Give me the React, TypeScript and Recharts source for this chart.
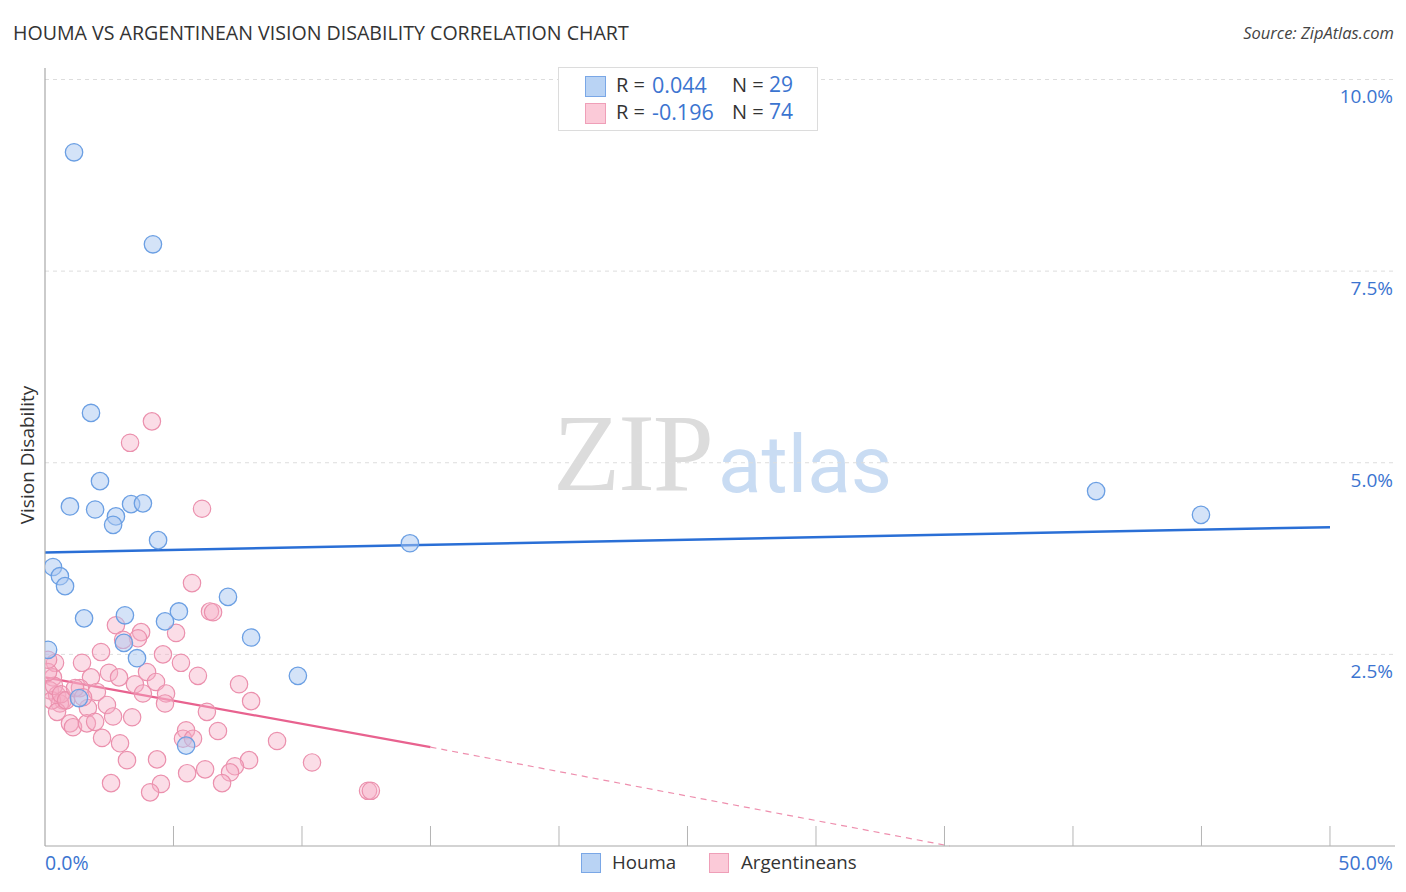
import React from 'react';
import { ScatterChart, Scatter, XAxis, YAxis, ReferenceLine } from 'recharts';

// Houma (blue) points: [x %, y %]
const houmaX = [1.13, 4.2, 1.79, 2.14, 0.97, 1.95, 2.76, 2.65, 3.35, 3.81, 4.4, 14.2, 0.31, 0.58, 0.78, 1.52, 3.11, 5.21, 4.67, 7.12, 3.07, 8.02, 3.58, 0.12, 9.84, 1.32, 5.49, 40.9, 44.98];
const houmaY = [9.05, 7.85, 5.65, 4.76, 4.43, 4.39, 4.3, 4.19, 4.46, 4.47, 3.99, 3.95, 3.64, 3.52, 3.39, 2.97, 3.01, 3.06, 2.93, 3.25, 2.65, 2.72, 2.45, 2.56, 2.22, 1.93, 1.31, 4.63, 4.32];

// Argentineans (pink) points
const argX = [4.16, 3.31, 6.11, 5.72, 6.42, 6.54, 2.76, 3.74, 3.62, 5.1, 2.18, 4.59, 1.44, 5.29, 0.39, 2.49, 2.88, 1.79, 3.97, 5.95, 3.5, 4.32, 7.55, 0.31, 1.36, 2.02, 3.81, 4.71, 8.02, 4.67, 0.19, 0.47, 0.7, 0.58, 0.27, 2.41, 1.67, 6.3, 2.65, 3.39, 0.47, 0.97, 1.09, 1.63, 1.95, 5.49, 6.73, 2.22, 5.37, 5.76, 9.03, 2.92, 3.19, 4.36, 7.94, 7.39, 7.2, 10.39, 6.23, 5.53, 2.57, 6.89, 4.51, 4.09, 12.57, 12.68, 0.35, 0.62, 0.82, 3.04, 1.17, 0.12, 1.48, 0.12];
const argY = [5.54, 5.26, 4.4, 3.43, 3.06, 3.05, 2.88, 2.79, 2.71, 2.78, 2.53, 2.5, 2.39, 2.39, 2.39, 2.26, 2.2, 2.2, 2.27, 2.22, 2.11, 2.14, 2.11, 2.2, 2.06, 2.01, 1.99, 1.99, 1.89, 1.86, 2.03, 1.97, 1.9, 1.86, 1.9, 1.84, 1.8, 1.75, 1.69, 1.68, 1.75, 1.6, 1.55, 1.6, 1.62, 1.51, 1.5, 1.41, 1.4, 1.4, 1.37, 1.34, 1.12, 1.13, 1.12, 1.04, 0.96, 1.09, 1.0, 0.95, 0.82, 0.82, 0.81, 0.7, 0.72, 0.72, 2.09, 1.98, 1.9, 2.69, 2.06, 2.27, 1.94, 2.43];

// regression lines
const houmaTrend = [{ x: 0, y: 3.83 }, { x: 50, y: 4.16 }];
const argTrendSolid = [{ x: 0, y: 2.2 }, { x: 15, y: 1.29 }];
const argTrendDashed = [{ x: 15, y: 1.29 }, { x: 35.2, y: 0.0 }];

const xTicks = [0, 5, 10, 15, 20, 25, 30, 35, 40, 45, 50];
const yTicks = [2.5, 5, 7.5, 10];
const yTickLabels = ['2.5%', '5.0%', '7.5%', '10.0%'];

const houmaData = houmaX.map((x, i) => ({ x, y: houmaY[i] }));
const argData = argX.map((x, i) => ({ x, y: argY[i] }));

const FONT = '"Open Sans", Roboto, sans-serif';
const BLUE_TXT = '#3b74d0';

const BlueDot = (p: any) => (
  <circle cx={p.cx} cy={p.cy} r={8.7} fill="#a9c8f1" fillOpacity={0.5} stroke="#6b9fe3" strokeWidth={1.3} />
);
const PinkDot = (p: any) => (
  <circle cx={p.cx} cy={p.cy} r={8.7} fill="#f6afc5" fillOpacity={0.42} stroke="#eb90ad" strokeWidth={1.2} />
);

const XTick = (p: any) => {
  const v = p.payload.value;
  return (
    <g>
      {v !== 0 && <line x1={p.x} x2={p.x} y1={p.y - 20} y2={p.y} stroke="#b5b5b5" strokeWidth={1} />}
      {v === 0 && (
        <text x={p.x} y={p.y + 24} textAnchor="start" fontSize={19.5} fill={BLUE_TXT} fontFamily={FONT}>0.0%</text>
      )}
      {v === 50 && (
        <text x={p.x + 63} y={p.y + 24} textAnchor="end" fontSize={19.5} fill={BLUE_TXT} fontFamily={FONT}>50.0%</text>
      )}
    </g>
  );
};

const RightTick = (p: any) => {
  const idx = yTicks.indexOf(p.payload.value);
  if (idx < 0) return null;
  return (
    <text x={p.x - 2} y={p.y + 24} textAnchor="end" fontSize={19} fill={BLUE_TXT} fontFamily={FONT}>
      {yTickLabels[idx]}
    </text>
  );
};

export default function App() {
  return (
    <div style={{ position: 'absolute', left: 0, top: 0, width: 1406, height: 892, background: '#fff', fontFamily: FONT, overflow: 'hidden' }}>
      <div style={{ position: 'absolute', left: 13, top: 19, fontSize: 19.6, color: '#333', whiteSpace: 'nowrap' }}>
        HOUMA VS ARGENTINEAN VISION DISABILITY CORRELATION CHART
      </div>
      <div style={{ position: 'absolute', right: 12, top: 21, fontSize: 16.5, color: '#444', fontStyle: 'italic', whiteSpace: 'nowrap' }}>
        Source: ZipAtlas.com
      </div>
      {/* watermark */}
      <div style={{ position: 'absolute', left: 553, top: 390, fontSize: 110, lineHeight: 'normal', color: '#dcdcdc', fontFamily: '"Liberation Serif", "DejaVu Serif", serif', letterSpacing: -2, whiteSpace: 'nowrap' }}>
        ZIP
      </div>
      <div style={{ position: 'absolute', left: 718, top: 418, fontSize: 80, color: '#c9dcf3', fontFamily: 'Roboto, sans-serif', whiteSpace: 'nowrap' }}>
        atlas
      </div>
      <div style={{ position: 'absolute', left: 0, top: 0 }}>
        <ScatterChart width={1406} height={892} margin={{ top: 68, right: 0, bottom: 16, left: 0 }}>
          <XAxis
            type="number"
            dataKey="x"
            domain={[0, 52.53]}
            ticks={xTicks}
            interval={0}
            height={30}
            tickSize={0}
            tickMargin={0}
            tickLine={false}
            axisLine={{ stroke: '#a8a8a8', strokeWidth: 1.2 }}
            tick={<XTick />}
            allowDataOverflow
          />
          <YAxis
            yAxisId="left"
            type="number"
            dataKey="y"
            domain={[0, 10.15]}
            ticks={yTicks}
            width={45}
            tick={false}
            tickLine={false}
            axisLine={{ stroke: '#a8a8a8', strokeWidth: 1.2 }}
            allowDataOverflow
          />
          <YAxis
            yAxisId="right"
            orientation="right"
            type="number"
            domain={[0, 10.15]}
            ticks={yTicks}
            width={11}
            tickSize={0}
            tickMargin={0}
            tickLine={false}
            axisLine={false}
            tick={<RightTick />}
            allowDataOverflow
          />
          {yTicks.map((t) => (
            <ReferenceLine key={t} yAxisId="left" y={t} stroke="#dddddd" strokeDasharray="4 4" strokeWidth={1} />
          ))}
          <Scatter yAxisId="left" data={argData} shape={PinkDot} isAnimationActive={false} />
          <Scatter yAxisId="left" data={houmaData} shape={BlueDot} isAnimationActive={false} />
          <ReferenceLine yAxisId="left" segment={houmaTrend} stroke="#2a6fd6" strokeWidth={2.5} ifOverflow="visible" />
          <ReferenceLine yAxisId="left" segment={argTrendSolid} stroke="#e8628f" strokeWidth={2.2} ifOverflow="visible" />
          <ReferenceLine yAxisId="left" segment={argTrendDashed} stroke="#ee8fae" strokeWidth={1.2} strokeDasharray="6 5" ifOverflow="visible" />
        </ScatterChart>
      </div>
      {/* top legend */}
      <div style={{ position: 'absolute', left: 558, top: 67, width: 258, height: 62, border: '1px solid #dcdcdc', background: '#fff', fontSize: 20, color: '#333' }}>
        {[
          { fill: '#b9d3f4', stroke: '#7aa7e6', r: '0.044', n: '29', top: 8 },
          { fill: '#fbcad8', stroke: '#ef9fb8', r: '-0.196', n: '74', top: 35 },
        ].map((row) => (
          <div key={row.r} style={{ position: 'absolute', left: 0, top: row.top, height: 22, width: 258 }}>
            <div style={{ position: 'absolute', left: 26, top: 0, width: 19, height: 19, background: row.fill, border: `1.5px solid ${row.stroke}` }} />
            <span style={{ position: 'absolute', left: 57, top: -5, whiteSpace: 'nowrap' }}>R = </span>
            <span style={{ position: 'absolute', left: 93, top: -6, fontSize: 21.5, color: BLUE_TXT, whiteSpace: 'nowrap' }}>{row.r}</span>
            <span style={{ position: 'absolute', left: 173, top: -5, whiteSpace: 'nowrap' }}>N = </span>
            <span style={{ position: 'absolute', left: 210, top: -6, fontSize: 21, color: BLUE_TXT, whiteSpace: 'nowrap' }}>{row.n}</span>
          </div>
        ))}
      </div>
      {/* bottom legend */}
      <div style={{ position: 'absolute', left: 581, top: 853, width: 18, height: 18, background: '#b9d3f4', border: '1.5px solid #7aa7e6' }} />
      <div style={{ position: 'absolute', left: 612, top: 849, fontSize: 18.7, color: '#333', whiteSpace: 'nowrap' }}>Houma</div>
      <div style={{ position: 'absolute', left: 709, top: 853, width: 18, height: 18, background: '#fbcad8', border: '1.5px solid #ef9fb8' }} />
      <div style={{ position: 'absolute', left: 741, top: 849, fontSize: 18.7, color: '#333', whiteSpace: 'nowrap' }}>Argentineans</div>
      {/* y label */}
      <div style={{ position: 'absolute', left: 27, top: 455, transform: 'translate(-50%, -50%) rotate(-90deg)', fontSize: 19, color: '#333', whiteSpace: 'nowrap' }}>
        Vision Disability
      </div>
    </div>
  );
}
